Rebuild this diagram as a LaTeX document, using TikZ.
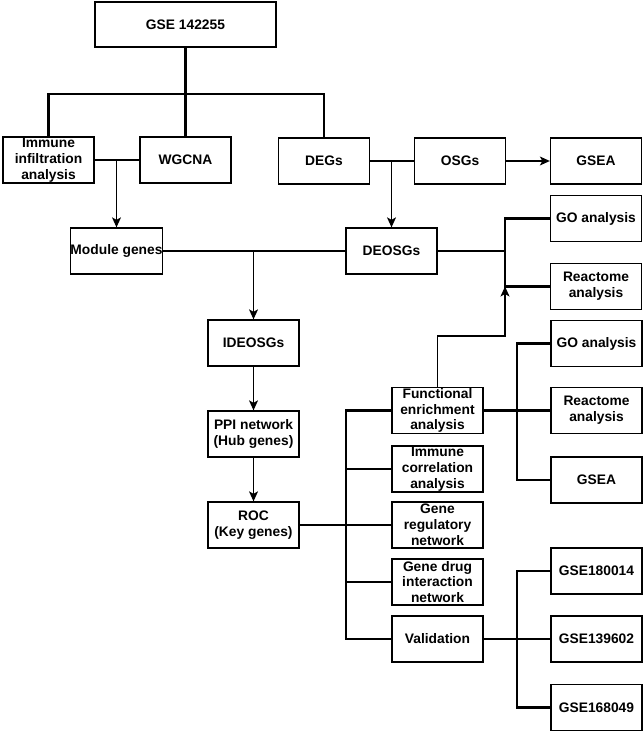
\documentclass[tikz,border=0pt]{standalone}
\usepackage{fontspec}
\setmainfont{Liberation Sans}
\usetikzlibrary{arrows.meta}

\tikzset{x=1pt, y=-1pt,
    box/.style={draw, line width=1.3pt, minimum width=91pt, minimum height=46pt,
        inner sep=0pt, align=center, font=\bfseries\fontsize{13.8}{15.8}\selectfont},
    tree/.style={line width=2.3pt},
    arr/.style={line width=1.2pt, -{Stealth[length=10pt, width=9pt, inset=2.5pt]}}}

\begin{document}
\begin{tikzpicture}
                \useasboundingbox (0,0) rectangle (644,733);
                \node[box, minimum width=181pt, minimum height=45pt] (gse) at (185.5,24.5) {GSE 142255};
                \node[box] (immune) at (48.5,160) {Immune\\infiltration\\analysis};
                \node[box] (wgcna) at (185.5,160) {WGCNA};
                \node[box] (degs) at (324,161) {DEGs};
                \node[box] (osgs) at (460,161) {OSGs};
                \node[box] (gseaA) at (596,161) {GSEA};
                \node[box] (module) at (116.5,251) {Module genes};
                \node[box] (deosgs) at (391.5,251) {DEOSGs};
                \node[box] (goA) at (596,218.5) {GO analysis};
                \node[box] (reactA) at (596,286.5) {Reactome\\analysis};
                \node[box] (ideosgs) at (253.5,343) {IDEOSGs};
                \node[box] (ppi) at (253.5,434) {PPI network\\(Hub genes)};
                \node[box] (roc) at (253.5,525) {ROC\\(Key genes)};
                \node[box] (func) at (437.5,410.5) {Functional\\enrichment\\analysis};
                \node[box] (immcorr) at (437.5,469) {Immune\\correlation\\analysis};
                \node[box] (genereg) at (437.5,525) {Gene\\regulatory\\network};
                \node[box] (genedrug) at (437.5,582) {Gene drug\\interaction\\network};
                \node[box] (valid) at (437.5,639) {Validation};
                \node[box] (goB) at (596.5,343.5) {GO analysis};
                \node[box] (reactB) at (596.5,410.5) {Reactome\\analysis};
                \node[box] (gseaB) at (596.5,480) {GSEA};
                \node[box] (gseC) at (596.5,571) {GSE180014};
                \node[box] (gseD) at (596.5,639) {GSE139602};
                \node[box] (gseE) at (596.5,707.5) {GSE168049};

                \coordinate (top) at (185.5,94);
                \coordinate (jA) at (505,251);
                \coordinate (bend) at (505,336);
                \coordinate (trunk) at (346,525);
                \coordinate (jB) at (517,410.5);
                \coordinate (jC) at (517,639);

                \draw[tree] (gse.south) -- (top);
                \draw[tree] (immune.north) |- (top) -| (degs.north);
                \draw[tree] (wgcna.north) -- (wgcna.north |- top);
                \draw[tree] (immune) -- (wgcna);
                \draw[arr] (module.north |- immune.east) -- (module.north);
                \draw[tree] (degs) -- (osgs);
                \draw[arr] (deosgs.north |- degs.east) -- (deosgs.north);
                \draw[arr] (osgs) -- (gseaA);
                \draw[tree] (module) -- (deosgs);
                \draw[arr] (ideosgs.north |- module.east) -- (ideosgs.north);
                \draw[tree] (deosgs.east) -- (jA);
                \draw[tree] (goA.west) -| (jA) |- (reactA.west);
                \draw[arr] (func.north) |- (bend) -- (jA |- reactA.west);
                \draw[arr] (ideosgs) -- (ppi);
                \draw[arr] (ppi) -- (roc);
                \draw[tree] (roc) -- (genereg);
                \draw[tree] (func.west) -| (trunk) |- (valid.west);
                \foreach \n in {immcorr, genedrug}
                    \draw[tree] (\n.west) -- (\n.west -| trunk);
                \draw[tree] (func) -- (reactB);
                \draw[tree] (goB.west) -| (jB) |- (gseaB.west);
                \draw[tree] (valid) -- (gseD);
                \draw[tree] (gseC.west) -| (jC) |- (gseE.west);
            \end{tikzpicture}
\end{document}
